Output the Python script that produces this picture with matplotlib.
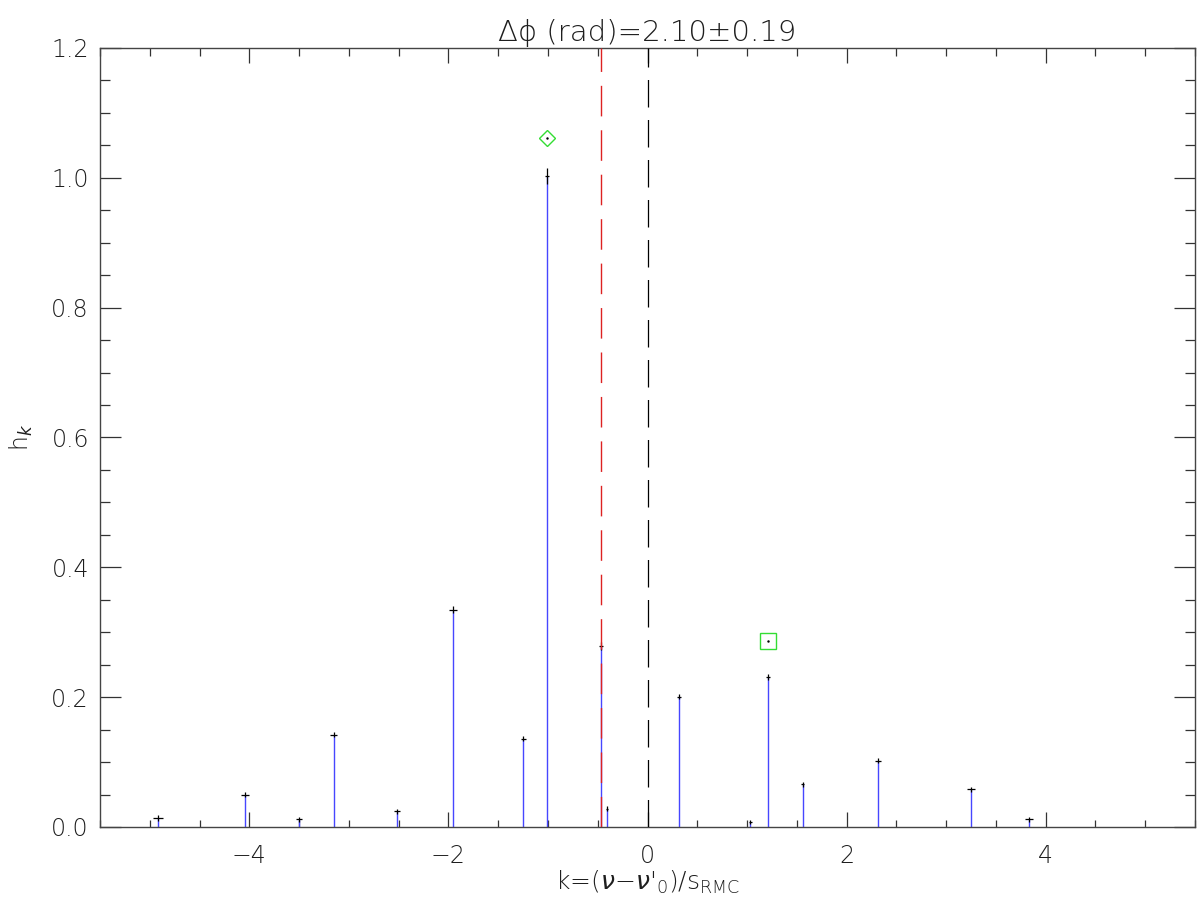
import matplotlib
matplotlib.use("Agg")
import matplotlib.pyplot as plt
from matplotlib.ticker import MultipleLocator

# stem positions k and heights h_k
k = [-4.92, -4.04, -3.50, -3.15, -2.52, -1.95, -1.25, -1.01, -0.47, -0.41,
     0.32, 1.03, 1.21, 1.56, 2.32, 3.25, 3.83]
h = [0.014, 0.050, 0.012, 0.142, 0.024, 0.335, 0.136, 1.003, 0.279, 0.028,
     0.201, 0.008, 0.231, 0.066, 0.102, 0.058, 0.012]
k_err = [0.05, 0.04, 0.03, 0.035, 0.03, 0.04, 0.025, 0.02, 0.02, 0.01,
         0.02, 0.015, 0.02, 0.015, 0.03, 0.04, 0.04]
h_err = [0.005, 0.004, 0.004, 0.004, 0.004, 0.005, 0.004, 0.012, 0.006, 0.004,
         0.004, 0.003, 0.005, 0.004, 0.004, 0.004, 0.004]

# reference lines and highlighted peaks
k_red = -0.47
k_zero = 0.0
diamond_k, diamond_h = -1.01, 1.062
square_k, square_h = 1.21, 0.286

txt = "#1e1e1e"
plt.rcParams['font.family'] = ['DejaVu Sans']
plt.rcParams['font.weight'] = 'light'
plt.rcParams['axes.titleweight'] = 'light'
plt.rcParams['axes.labelweight'] = 'light'
plt.rcParams['mathtext.fontset'] = 'dejavusans'

fig = plt.figure(figsize=(12, 9.1), dpi=100)
ax = fig.add_axes([100/1200, 83/910, 1095/1200, 779/910])

ax.vlines(k, 0, h, color="#4646ff", lw=1.0, zorder=2)
ax.errorbar(k, h, xerr=k_err, yerr=h_err, fmt='none', ecolor="black",
            elinewidth=0.9, capsize=0, zorder=3)

ax.axvline(k_red, color="#dd2222", lw=1.0, dashes=(22, 10), zorder=4)
ax.axvline(k_zero, color="black", lw=0.9, dashes=(22, 10), zorder=4)

ax.plot([diamond_k], [diamond_h], marker='D', ms=8.2, mfc='none',
        mec="#33dd33", mew=1.0, ls='none')
ax.plot([square_k], [square_h], marker='s', ms=11.5, mfc='none',
        mec="#33dd33", mew=1.0, ls='none')
ax.plot([diamond_k, square_k], [diamond_h, square_h], marker='.', ms=1.5,
        color='black', ls='none')

ax.set_xlim(-5.5, 5.5)
ax.set_ylim(0, 1.2)
ax.xaxis.set_major_locator(MultipleLocator(2))
ax.xaxis.set_minor_locator(MultipleLocator(0.5))
ax.yaxis.set_major_locator(MultipleLocator(0.2))
ax.yaxis.set_minor_locator(MultipleLocator(0.05))
ax.yaxis.set_major_formatter(plt.FormatStrFormatter('%.1f'))

ax.tick_params(axis='both', which='both', direction='in', top=True, right=True,
               colors="#333333", labelcolor=txt, labelsize=17, width=0.9)
ax.tick_params(axis='x', which='major', length=10.8, pad=12)
ax.tick_params(axis='x', which='minor', length=5.4)
ax.tick_params(axis='y', which='major', length=15, pad=8)
ax.tick_params(axis='y', which='minor', length=7.5)
for s in ax.spines.values():
    s.set_color("#444444")
    s.set_linewidth(1.0)

ax.set_title("Δϕ (rad)=2.10±0.19", fontsize=21, color=txt, pad=5)
ax.set_xlabel(r"k=($\nu$−$\nu$'$_0$)/s$_{\mathrm{RMC}}$", fontsize=18,
              color=txt, labelpad=1)
ax.set_ylabel(r"h$_k$", fontsize=17, color=txt, labelpad=12)

fig.savefig("out.png", dpi=100)
